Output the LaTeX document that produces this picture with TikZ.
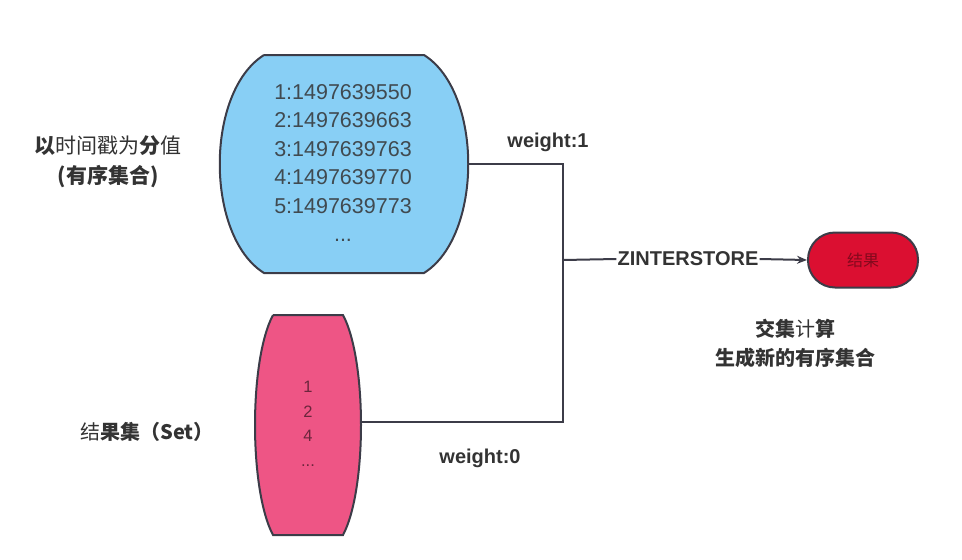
\documentclass[tikz,border=0pt]{standalone}
\usepackage{fontspec}
\setmainfont{Liberation Sans}
\newfontfamily\cjk{Noto Sans CJK SC}
\usetikzlibrary{arrows.meta}
\definecolor{zblue}{HTML}{88CFF5}
\definecolor{zpink}{HTML}{EE5585}
\definecolor{zred}{HTML}{DB0F31}
\definecolor{zline}{HTML}{3C3C48}
\definecolor{ztext}{HTML}{333333}
\tikzset{
  shapeline/.style={draw=zline, line width=2pt},
  wire/.style={draw=zline, line width=2pt},
  lbl/.style={text=ztext, font=\fontsize{20}{24}\selectfont\bfseries, inner sep=1pt},
  cjklbl/.style={text=ztext, font=\cjk\fontsize{20}{29}\selectfont, align=center, inner sep=1pt}
}
\begin{document}
\begin{tikzpicture}[x=1pt, y=-1pt, >=Stealth]
    \useasboundingbox (0,0) rectangle (962,560);

    % 有序集合（蓝）
    \filldraw[shapeline, fill=zblue] (264,55) -- (424,55)
        .. controls (483,92) and (483,236) .. (424,273) -- (264,273)
        .. controls (205,236) and (205,92) .. (264,55);
    \node[text=ztext!85!zblue, font=\fontsize{21.5}{28.5}\selectfont, align=center] (zset) at (343,163)
        {1:1497639550\\2:1497639663\\3:1497639763\\4:1497639770\\5:1497639773\\...};
    \coordinate (zsetR) at (468,164);

    % 结果集（粉）
    \filldraw[shapeline, fill=zpink] (273,315) -- (343,315)
        .. controls (367,360) and (367,490) .. (343,535) -- (273,535)
        .. controls (249,490) and (249,360) .. (273,315);
    \node[text=zpink!45!black, font=\fontsize{16.5}{24.5}\selectfont, align=center] (set) at (308,424)
        {1\\2\\4\\...};
    \coordinate (setR) at (361,422);

    % 结果
    \node[shapeline, fill=zred, rounded corners=27pt, minimum width=110pt, minimum height=55pt,
          text=zred!60!black, font=\cjk\fontsize{16}{18}\selectfont] (res) at (863,260) {结果};

    % 连线
    \coordinate (j1) at (563,164);
    \coordinate (j0) at (563,422);
    \coordinate (jm) at (563,260);
    \node[lbl] (zis) at (688,259) {ZINTERSTORE};
    \draw[wire] (zsetR) -- (j1) -- (j0) -- (setR);
    \draw[wire] (jm) -- (zis.west);
    \draw[wire, -{Stealth[length=10pt, width=8pt]}] (zis.east) -- (res.west);

    % 权重
    \node[lbl] (w1) at (548,142) {weight:1};
    \node[lbl] (w0) at (480,458) {weight:0};

    % 文字说明
    \node[cjklbl, font=\cjk\fontsize{21}{30}\selectfont] (zlbl) at (108,162)
        {{\bfseries 以}时间戳为{\bfseries 分}值\\{\bfseries (有序集合)}};
    \node[cjklbl] (slbl) at (147,432) {结{\bfseries 果集（Set）}};
    \node[cjklbl] (rlbl) at (795,343)
        {{\bfseries 交集}计{\bfseries 算}\\{\bfseries 生成新的有序集合}};
\end{tikzpicture}
\end{document}
